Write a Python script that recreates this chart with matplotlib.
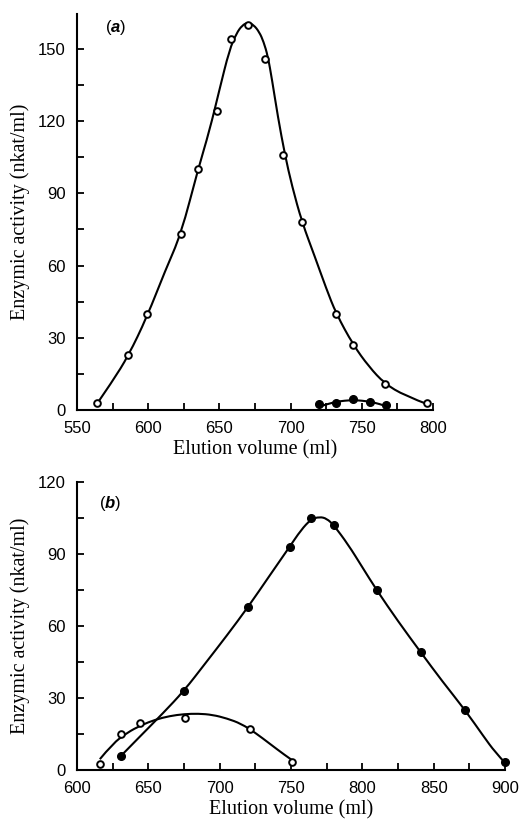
import matplotlib
matplotlib.use('Agg')
import matplotlib.pyplot as plt
from matplotlib.ticker import MultipleLocator
from matplotlib.path import Path
from matplotlib.patches import PathPatch

plt.rcParams['font.family'] = ['Liberation Sans', 'DejaVu Sans']
plt.rcParams['mathtext.fontset'] = 'custom'
plt.rcParams['mathtext.it'] = 'Liberation Sans:italic:bold'
plt.rcParams['mathtext.rm'] = 'Liberation Sans'

# ---- panel (a) data ----
a_open_x = [564, 586, 599, 623, 635, 648, 658, 670, 682, 695, 708, 732, 744, 766, 796]
a_open_y = [3, 23, 40, 73, 100, 124, 154, 160, 146, 106, 78, 40, 27, 11, 3]
a_fill_x = [720, 732, 744, 756, 767]
a_fill_y = [2.3, 3.0, 4.7, 3.3, 2.0]
# hand-drawn curves
a_curve_x = [563, 575, 586, 599, 612, 623, 635, 643, 650, 657, 662, 666, 670, 674, 678,
             681, 684, 687, 691, 696, 701, 708, 717, 725, 732, 744, 755, 766, 780, 797]
a_curve_y = [1.7, 12, 22.5, 38.5, 58, 73, 100, 116, 133, 149.6, 156.5, 159.8, 161, 160, 157,
             153, 147, 137, 122, 106, 93, 78, 63.7, 50.5, 40, 27, 18, 11, 6, 2.2]
a_curve2_x = [720, 726, 732, 738, 744, 750, 756, 762, 767]
a_curve2_y = [1.4, 2.5, 3.4, 3.9, 4.1, 3.9, 3.4, 2.6, 1.6]

# ---- panel (b) data ----
b_fill_x = [631, 675, 720, 749, 764, 780, 810, 841, 872, 900]
b_fill_y = [6, 33, 68, 93, 105, 102, 75, 49, 25, 3.5]
b_open_x = [616, 631, 644, 676, 721, 751]
b_open_y = [2.5, 15, 19.5, 21.5, 17, 3.5]
b_curve_x = [631, 645, 660, 675, 690, 705, 720, 735, 749, 757, 764, 770, 775, 780,
             790, 800, 810, 825, 841, 856, 872, 885, 893, 900]
b_curve_y = [6, 14.5, 23.5, 33, 44.5, 56, 68, 81, 93, 100, 104.5, 105.5, 104.8, 102,
             94, 84.5, 75, 62, 49, 37, 25, 14, 7.5, 3]
b_curve2_x = [616, 625, 635, 645, 655, 665, 675, 685, 695, 705, 715, 725, 735, 745, 751]
b_curve2_y = [4.5, 11, 15.5, 18.7, 21, 22.5, 23.3, 23.5, 23, 21.5, 19.3, 15.5, 11, 6.5, 4]


def smooth_curve(ax, xs, ys):
    # read points used as quadratic bezier controls, drawn by matplotlib's Path
    pts = list(zip(xs, ys))
    verts = [pts[0]]
    codes = [Path.MOVETO]
    for i in range(1, len(pts) - 1):
        mid = ((pts[i][0] + pts[i + 1][0]) / 2, (pts[i][1] + pts[i + 1][1]) / 2)
        if i == len(pts) - 2:
            mid = pts[-1]
        verts += [pts[i], mid]
        codes += [Path.CURVE3, Path.CURVE3]
    patch = PathPatch(Path(verts, codes), fc='none', ec='black', lw=1.5,
                      clip_on=False, zorder=2)
    ax.add_patch(patch)


fig = plt.figure(figsize=(5.25, 8.23), dpi=100)
ax1 = fig.add_axes([0.1467, 0.5018, 0.6781, 0.4812])
ax2 = fig.add_axes([0.1467, 0.0644, 0.8152, 0.3499])

open_style = dict(marker='o', ms=4.8, mfc='white', mec='black', mew=1.4, ls='none', zorder=3)
fill_style = dict(marker='o', ms=5.5, mfc='black', mec='black', ls='none', zorder=3)

smooth_curve(ax1, a_curve_x, a_curve_y)
smooth_curve(ax1, a_curve2_x, a_curve2_y)
ax1.plot(a_open_x, a_open_y, **open_style)
ax1.plot(a_fill_x, a_fill_y, **fill_style)
ax1.set_xlim(550, 800)
ax1.set_ylim(0, 164.5)
ax1.xaxis.set_major_locator(MultipleLocator(50))
ax1.xaxis.set_minor_locator(MultipleLocator(25))
ax1.yaxis.set_major_locator(MultipleLocator(30))
ax1.yaxis.set_minor_locator(MultipleLocator(15))
ax1.text(577, 159, r'($\mathit{a}$)', fontsize=12, va='center', ha='center')

smooth_curve(ax2, b_curve_x, b_curve_y)
smooth_curve(ax2, b_curve2_x, b_curve2_y)
ax2.plot(b_open_x, b_open_y, **open_style)
ax2.plot(b_fill_x, b_fill_y, **fill_style)
ax2.set_xlim(600, 900)
ax2.set_ylim(0, 120)
ax2.xaxis.set_major_locator(MultipleLocator(50))
ax2.xaxis.set_minor_locator(MultipleLocator(25))
ax2.yaxis.set_major_locator(MultipleLocator(30))
ax2.yaxis.set_minor_locator(MultipleLocator(15))
ax2.text(623, 111, r'($\mathit{b}$)', fontsize=12, va='center', ha='center')

for ax in (ax1, ax2):
    for s in ('top', 'right'):
        ax.spines[s].set_visible(False)
    for s in ('left', 'bottom'):
        ax.spines[s].set_linewidth(1.5)
    ax.tick_params(which='both', direction='in', length=5, width=1.3,
                   labelsize=12, pad=8)
    ax.set_xlabel('Elution volume (ml)', family='Liberation Serif', fontsize=14.5, labelpad=3)
    ax.set_ylabel('Enzymic activity (nkat/ml)', family='Liberation Serif', fontsize=14.5, labelpad=6)
    for ln in ax.lines:
        ln.set_clip_on(False)

fig.savefig('out.png', dpi=100)
